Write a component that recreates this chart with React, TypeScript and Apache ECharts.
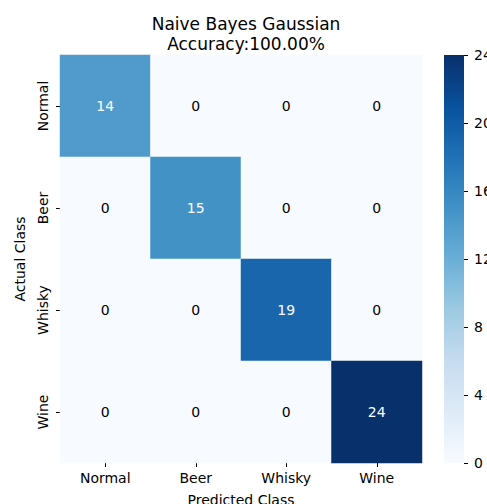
import React, { useEffect, useRef } from "react";
import * as echarts from "echarts";

const classes = ["Normal", "Beer", "Whisky", "Wine"];
const matrix = [
  [14, 0, 0, 0],
  [0, 15, 0, 0],
  [0, 0, 19, 0],
  [0, 0, 0, 24],
];
const colorbarMax = 24;
const colorbarInterval = 4;
const blues = ["#f7fbff", "#deebf7", "#c6dbef", "#9ecae1", "#6baed6", "#4292c6", "#2171b5", "#08519c", "#08306b"];
const titleText = "Naive Bayes Gaussian\nAccuracy:100.00%";
const xName = "Predicted Class";
const yName = "Actual Class";

const FONT = "DejaVu Sans";

export default function App() {
  const ref = useRef<HTMLDivElement>(null);
  useEffect(() => {
    document.body.style.margin = "0";
    const chart = echarts.init(ref.current!, null, { renderer: "svg" });
    const data = [] as any[];
    matrix.forEach((row, r) =>
      row.forEach((v, c) =>
        data.push({ value: [c, r, v], label: { color: v > 10 ? "#fff" : "#000" } })
      )
    );
    const n = blues.length - 1;
    const gradStops = blues.map((_, i) => ({ offset: i / n, color: blues[n - i] }));
    chart.setOption({
      animation: false,
      backgroundColor: "#fff",
      textStyle: { fontFamily: FONT },
      title: {
        text: titleText,
        left: 241,
        textAlign: "center",
        top: 9,
        textStyle: { fontFamily: FONT, fontSize: 17, fontWeight: "normal", color: "#000", lineHeight: 20 },
      },
      grid: [
        { left: 60, top: 55, width: 362, height: 408, outerBoundsMode: "none", containLabel: false },
        { left: 444, top: 55, width: 20, height: 408, outerBoundsMode: "none", containLabel: false },
      ],
      xAxis: [
        {
          type: "category",
          gridIndex: 0,
          data: classes,
          name: xName,
          nameLocation: "middle",
          nameGap: 30,
          nameTextStyle: { fontFamily: FONT, fontSize: 14, color: "#000" },
          axisLine: { show: false },
          axisTick: { show: true, alignWithLabel: true, length: 4, lineStyle: { color: "#000" } },
          axisLabel: { fontFamily: FONT, fontSize: 14, color: "#000", margin: 8 },
          splitLine: { show: false },
        },
        {
          type: "category",
          gridIndex: 1,
          data: [""],
          show: false,
        },
      ],
      yAxis: [
        {
          type: "category",
          gridIndex: 0,
          data: classes,
          inverse: true,
          name: yName,
          nameLocation: "middle",
          nameGap: 33,
          nameRotate: 90,
          nameTextStyle: { fontFamily: FONT, fontSize: 14, color: "#000" },
          axisLine: { show: false },
          axisTick: { show: true, alignWithLabel: true, length: 4, lineStyle: { color: "#000" } },
          axisLabel: { fontFamily: FONT, fontSize: 14, color: "#000", rotate: 90, margin: 10 },
          splitLine: { show: false },
        },
        {
          type: "value",
          gridIndex: 1,
          min: 0,
          max: colorbarMax,
          interval: colorbarInterval,
          position: "right",
          axisLine: { show: false },
          axisTick: { show: true, length: 4, lineStyle: { color: "#000" } },
          axisLabel: { fontFamily: FONT, fontSize: 14, color: "#000", margin: 10 },
          splitLine: { show: false },
        },
      ],
      visualMap: {
        show: false,
        min: 0,
        max: colorbarMax,
        seriesIndex: 0,
        dimension: 2,
        inRange: { color: blues },
      },
      series: [
        {
          type: "heatmap",
          xAxisIndex: 0,
          yAxisIndex: 0,
          data,
          label: {
            show: true,
            fontFamily: FONT,
            fontSize: 14,
            formatter: (p: any) => String(p.value[2]),
          },
          itemStyle: { borderWidth: 0 },
          emphasis: { disabled: true },
        },
        {
          type: "bar",
          xAxisIndex: 1,
          yAxisIndex: 1,
          data: [colorbarMax],
          barWidth: "100%",
          silent: true,
          itemStyle: {
            color: new echarts.graphic.LinearGradient(0, 0, 0, 1, gradStops),
          },
        },
      ],
    });
    return () => chart.dispose();
  }, []);
  return <div ref={ref} style={{ width: 487, height: 504 }} />;
}
